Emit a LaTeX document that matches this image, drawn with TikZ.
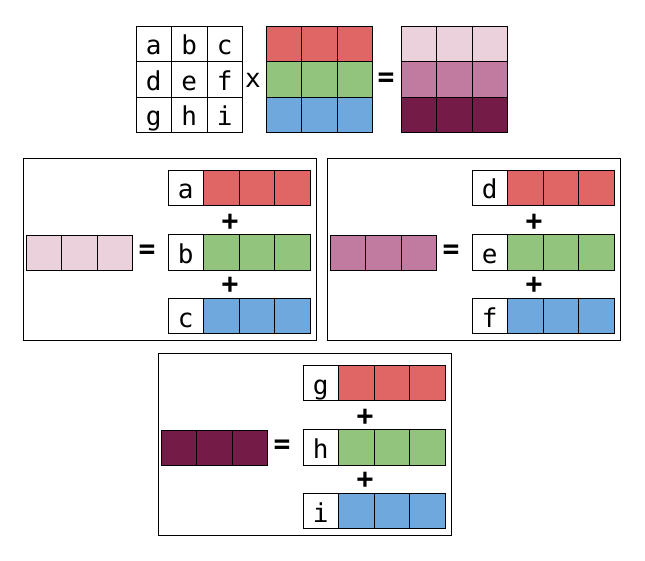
\documentclass[tikz,border=0pt]{standalone}
\usepackage{fontspec}
\setmonofont{DejaVu Sans Mono}
\usetikzlibrary{positioning}
\definecolor{rowred}{HTML}{E06666}
\definecolor{rowgreen}{HTML}{93C47D}
\definecolor{rowblue}{HTML}{6FA8DC}
\definecolor{outpink}{HTML}{EAD1DC}
\definecolor{outmauve}{HTML}{C27BA0}
\definecolor{outplum}{HTML}{741B47}
\tikzstyle{cell}=[draw, line width=0.8pt, minimum size=35.5pt, inner sep=0pt, outer sep=0pt,
  text height=22.5pt, text depth=0pt, font=\ttfamily\fontsize{26}{26}\selectfont]
\tikzstyle{op}=[inner sep=0pt, font=\ttfamily\bfseries\fontsize{28}{28}\selectfont]
\tikzstyle{panel}=[draw, line width=0.8pt, minimum width=293pt, minimum height=182pt,
  anchor=north west, inner sep=0pt]

% one row of the product: result row = key row combination
\newcommand{\rowpanel}[6]{%
  \begin{scope}[shift={#2}]
    \node[panel] (#1) at (0,0) {};
    \foreach \c in {0,1,2}
      \node[cell, fill=#3] (#1out\c) at ({20.75+35.5*\c},94.75) {};
    \node[op] (#1eq) at (124,94) {=};
    \foreach \k/\l/\col/\y in {0/#4/rowred/12,1/#5/rowgreen/76.5,2/#6/rowblue/140} {
      \node[cell] (#1key\k) at (162.75,\y+17.75) {\l};
      \foreach \c in {1,2,3}
        \node[cell, fill=\col] (#1row\k\c) at ({162.75+35.5*\c},\y+17.75) {};
    }
    \node[op] (#1plus0) at (207,64) {+};
    \node[op] (#1plus1) at (207,127) {+};
  \end{scope}}

\begin{document}
\begin{tikzpicture}[x=1pt, y=-1pt]
  \useasboundingbox (0,0) rectangle (645,561);
  % top: A x B = C
  \foreach \r/\row in {0/{a,b,c},1/{d,e,f},2/{g,h,i}}
    \foreach \l [count=\c from 0] in \row
      \node[cell] (A\r\c) at ({153.75+35.5*\c},{43.75+35.5*\r}) {\l};
  \node[op, font=\ttfamily\fontsize{26}{26}\selectfont] (times) at (253,80) {x};
  \foreach \r/\col in {0/rowred,1/rowgreen,2/rowblue}
    \foreach \c in {0,1,2}
      \node[cell, fill=\col] (B\r\c) at ({283.75+35.5*\c},{43.75+35.5*\r}) {};
  \node[op] (equals) at (386,80) {=};
  \foreach \r/\col in {0/outpink,1/outmauve,2/outplum}
    \foreach \c in {0,1,2}
      \node[cell, fill=\col] (C\r\c) at ({418.75+35.5*\c},{43.75+35.5*\r}) {};
  % the three rows of C
  \rowpanel{first}{(23,158)}{outpink}{a}{b}{c}
  \rowpanel{second}{(327,158)}{outmauve}{d}{e}{f}
  \rowpanel{third}{(158,353)}{outplum}{g}{h}{i}
\end{tikzpicture}
\end{document}
